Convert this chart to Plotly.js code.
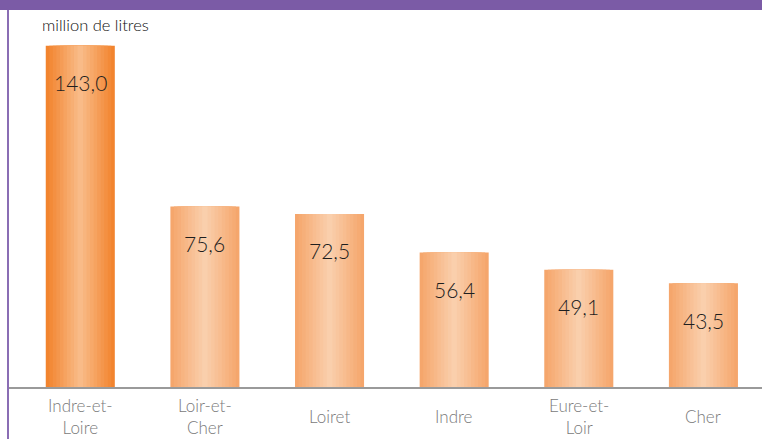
<!DOCTYPE html>
<html>
<head>
<meta charset="utf-8">
<script src="https://cdn.plot.ly/plotly-3.0.1.min.js"></script>
<style>
  body { margin: 0; background: #fff; }
  #wrap { position: relative; width: 762px; height: 439px; overflow: hidden; }
  #chart { position: absolute; left: 0; top: 0; width: 762px; height: 439px; }
  #band { position: absolute; left: 0; top: 0; width: 762px; height: 10px; background: #7b5ba6; }
  #edge { position: absolute; left: 7px; top: 10px; width: 2px; height: 429px; background: #8a6db4; }
</style>
</head>
<body>
<div id="wrap">
  <div id="chart"></div>
  <div id="band"></div>
  <div id="edge"></div>
</div>
<script>
var departements = ['Indre-et-<br>Loire', 'Loir-et-<br>Cher', 'Loiret', 'Indre', 'Eure-et-<br>Loir', 'Cher'];
var volumes = [143.0, 75.6, 72.5, 56.4, 49.1, 43.5];

// colours: edge of the bar -> light stripe in the middle
var firstEdge = [242, 132, 46], firstMid = [249, 187, 136];
var otherEdge = [245, 166, 108], otherMid = [250, 207, 172];

function mix(a, b, t) {
    return 'rgb(' + a.map(function (v, i) { return Math.round(v + (b[i] - v) * t); }).join(',') + ')';
}

var xs = departements.map(function (d, i) { return i; });
var fullWidth = 0.554;
var steps = 10;
var data = [];
for (var s = 0; s < steps; s++) {
    var t = s / (steps - 1);
    var w = fullWidth * (1 - t * 0.92);
    data.push({
        x: xs,
        y: volumes,
        type: 'bar',
        width: w,
        marker: {
            color: xs.map(function (i) { return i === 0 ? mix(firstEdge, firstMid, t) : mix(otherEdge, otherMid, t); }),
            line: {width: 0}
        },
        hoverinfo: 'skip',
        showlegend: false
    });
}

var annotations = [];
volumes.forEach(function (v, i) {
    annotations.push({
        x: i, y: v, xref: 'x', yref: 'y',
        text: v.toFixed(1).replace('.', ','),
        showarrow: false, yanchor: 'middle', yshift: -37,
        font: {family: 'Lato, sans-serif', size: 21, weight: 300, color: '#1e1e1e'}
    });
    annotations.push({
        x: i, y: 0, xref: 'x', yref: 'y',
        text: departements[i],
        showarrow: false, yanchor: 'middle', yshift: -29,
        font: {family: 'Lato, sans-serif', size: 17, weight: 300, color: '#7a7a7a'}
    });
});
annotations.push({
    x: 0.042, y: 1.0, xref: 'paper', yref: 'paper', xanchor: 'left', yanchor: 'middle',
    yshift: 4,
    text: 'million de litres', showarrow: false,
    font: {family: 'Lato, sans-serif', size: 16.5, weight: 300, color: '#0e0e0e'}
});

var layout = {
    width: 762,
    height: 439,
    margin: {l: 8, r: 0, t: 29, b: 52},
    paper_bgcolor: 'rgba(0,0,0,0)',
    plot_bgcolor: 'rgba(0,0,0,0)',
    barmode: 'overlay',
    xaxis: {
        range: [-0.58, 5.47],
        showticklabels: false,
        ticks: '',
        showgrid: false,
        zeroline: false,
        showline: true,
        linecolor: '#9a9a9a',
        linewidth: 2
    },
    yaxis: {
        range: [0, 150],
        visible: false,
        showgrid: false,
        zeroline: false
    },
    annotations: annotations
};

Plotly.newPlot('chart', data, layout, {displayModeBar: false, staticPlot: true});
</script>
</body>
</html>
